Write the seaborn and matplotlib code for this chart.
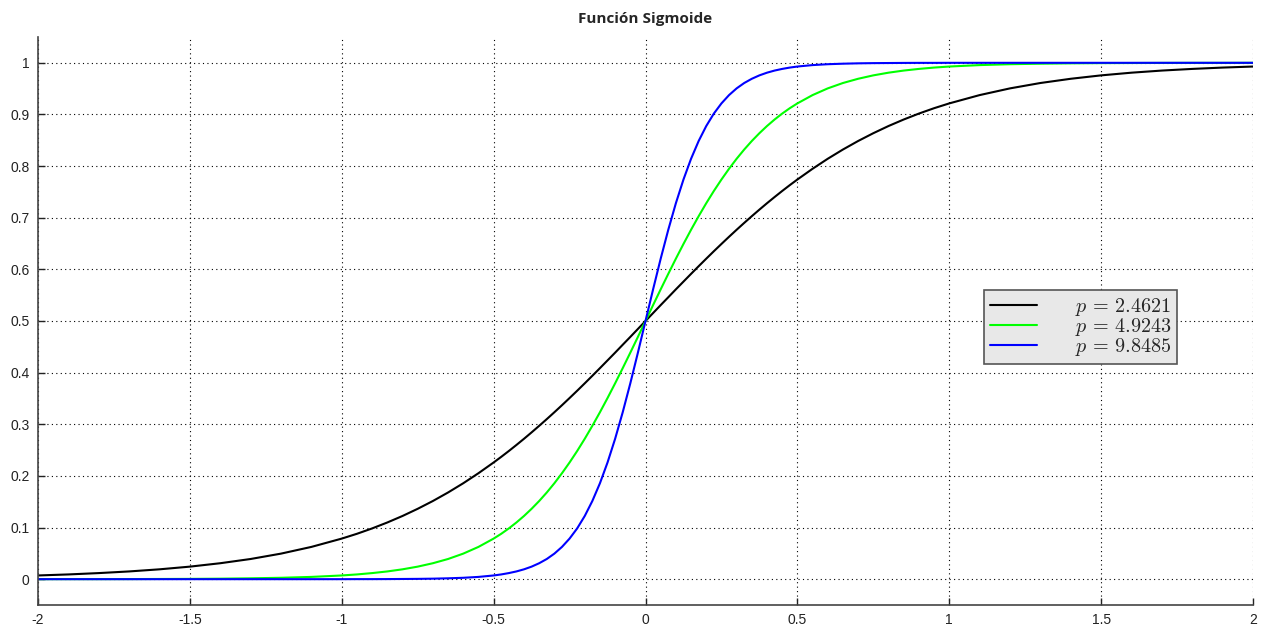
import numpy as np
import pandas as pd
import matplotlib
matplotlib.use("Agg")
import matplotlib.pyplot as plt
import seaborn as sns

# valores (lado positivo; el negativo es simetrico: 1 - v)
x_pos = [0.025, 0.05, 0.075, 0.1, 0.125, 0.15, 0.175, 0.2, 0.225, 0.25,
         0.275, 0.3, 0.325, 0.35, 0.375, 0.4, 0.425, 0.45, 0.475, 0.5,
         0.55, 0.6, 0.65, 0.7, 0.75, 0.8, 0.85, 0.9, 0.95, 1.0,
         1.1, 1.2, 1.3, 1.4, 1.5, 1.6, 1.7, 1.8, 1.9, 2.0]

y_negro = [0.5154, 0.5308, 0.5460, 0.5613, 0.5763, 0.5913, 0.6061, 0.6207, 0.6351, 0.6492,
           0.6631, 0.6767, 0.6900, 0.7030, 0.7157, 0.7281, 0.7401, 0.7518, 0.7631, 0.7740,
           0.7948, 0.8142, 0.8321, 0.8486, 0.8637, 0.8776, 0.8902, 0.9017, 0.9121, 0.9214,
           0.9375, 0.9505, 0.9609, 0.9691, 0.9757, 0.9809, 0.9850, 0.9882, 0.9908, 0.9928]
y_verde = [0.5308, 0.5613, 0.5913, 0.6207, 0.6492, 0.6767, 0.7030, 0.7281, 0.7518, 0.7740,
           0.7948, 0.8142, 0.8321, 0.8486, 0.8637, 0.8776, 0.8902, 0.9017, 0.9121, 0.9214,
           0.9375, 0.9505, 0.9609, 0.9691, 0.9757, 0.9809, 0.9850, 0.9882, 0.9908, 0.9928,
           0.9956, 0.9973, 0.9983, 0.9990, 0.9994, 0.9996, 0.9998, 0.9999, 0.9999, 1.0000]
y_azul = [0.5613, 0.6207, 0.6767, 0.7281, 0.7740, 0.8142, 0.8486, 0.8776, 0.9017, 0.9214,
          0.9375, 0.9505, 0.9609, 0.9691, 0.9757, 0.9809, 0.9850, 0.9882, 0.9908, 0.9928,
          0.9956, 0.9973, 0.9983, 0.9990, 0.9994, 0.9996, 0.9998, 0.9999, 0.9999, 1.0000,
          1.0000, 1.0000, 1.0000, 1.0000, 1.0000, 1.0000, 1.0000, 1.0000, 1.0000, 1.0000]

etiquetas = [r"$p\,=\,2.4621$", r"$p\,=\,4.9243$", r"$p\,=\,9.8485$"]
colores = ["#000000", "#00ff00", "#0000ff"]


def curva_completa(vals):
    xs = [-x for x in x_pos[::-1]] + [0.0] + x_pos
    ys = [1 - v for v in vals[::-1]] + [0.5] + vals
    return xs, ys


filas = []
for etq, vals in zip(etiquetas, [y_negro, y_verde, y_azul]):
    xs, ys = curva_completa(vals)
    for a, b in zip(xs, ys):
        filas.append({"x": a, "y": b, "serie": etq})
df = pd.DataFrame(filas)

sns.set_style("white")
plt.rcParams["font.family"] = ["Liberation Sans", "DejaVu Sans"]
plt.rcParams["mathtext.fontset"] = "cm"

fig = plt.figure(figsize=(12.68, 6.31), dpi=100)
ax = fig.add_axes([38 / 1268, 1 - 605 / 631, (1253 - 38) / 1268, (605 - 37) / 631])

sns.lineplot(data=df, x="x", y="y", hue="serie", palette=colores, linewidth=1.5,
             ax=ax, legend=False, sort=False)

ax.set_xlim(-2, 2)
ax.set_ylim(-0.05, 1.05)
ax.set_xticks(np.arange(-2, 2.01, 0.5))
ax.set_xticklabels(["-2", "-1.5", "-1", "-0.5", "0", "0.5", "1", "1.5", "2"])
ax.set_yticks(np.arange(0, 1.01, 0.1))
ax.set_yticklabels(["0", "0.1", "0.2", "0.3", "0.4", "0.5", "0.6", "0.7", "0.8", "0.9", "1"])
ax.set_xlabel("")
ax.set_ylabel("")
ax.grid(True, color="black", linestyle=(0, (1, 3)), linewidth=0.8)
ax.tick_params(direction="in", length=5, width=1, labelsize=10, colors="#222222",
               bottom=True, left=True, pad=6)
for lado in ["top", "right"]:
    ax.spines[lado].set_visible(False)
for lado in ["left", "bottom"]:
    ax.spines[lado].set_color("#444444")
    ax.spines[lado].set_linewidth(1.2)

ax.set_title("Función Sigmoide", fontsize=11, fontweight="bold", pad=10,
             family=["Open Sans", "DejaVu Sans"])

lineas = ax.get_lines()[:3]
leg = ax.legend(lineas, etiquetas, loc="upper left", bbox_to_anchor=(0.7786, 0.5546),
                borderaxespad=0, fontsize=14.5, frameon=True, fancybox=False,
                handlelength=2.35, handletextpad=1.85, labelspacing=-0.1, borderpad=0.3)
leg.get_frame().set_facecolor("#e8e8e8")
leg.get_frame().set_edgecolor("#555555")
leg.get_frame().set_linewidth(1.2)
leg.get_frame().set_alpha(1)

fig.savefig("out.png", dpi=100, facecolor="white")
